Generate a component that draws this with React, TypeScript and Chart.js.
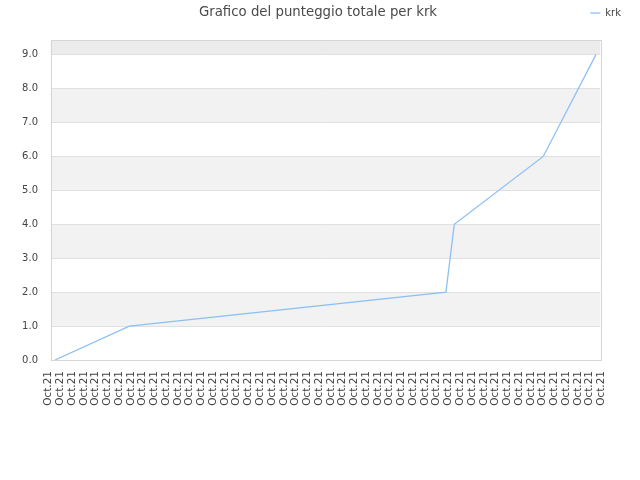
import React, { useEffect, useRef } from 'react';
import { Chart, registerables } from 'chart.js';

Chart.register(...registerables);

// x axis: one label per round, all in the same month
const dateLabels: string[] = Array(48).fill('Oct.21');
// y axis tick values
const yTicks: number[] = [0, 1, 2, 3, 4, 5, 6, 7, 8, 9];
// series "krk" (x in label units, y = total score)
const seriesName = 'krk';
const scoreX: number[] = [0.55, 6.87, 33.78, 34.49, 42.05, 46.53];
const scoreY: number[] = [0, 1, 2, 4, 6, 9];

const TITLE = 'Grafico del punteggio totale per krk';
const FONT = '"DejaVu Sans", sans-serif';

// alternating grey bands behind the plot + light frame + title
const decorPlugin = {
  id: 'decor',
  beforeDraw(chart: any) {
    const { ctx, chartArea: a, scales } = chart;
    const y = scales.y;
    ctx.save();
    const bands = [[1, 2], [3, 4], [5, 6], [7, 8]];
    ctx.fillStyle = '#f2f2f2';
    bands.forEach(([lo, hi]) => {
      const t = y.getPixelForValue(hi);
      const b = y.getPixelForValue(lo);
      ctx.fillRect(a.left, t, a.right - a.left, b - t);
    });
    ctx.fillStyle = '#ececec';
    const t9 = y.getPixelForValue(9);
    ctx.fillRect(a.left, a.top, a.right - a.left, t9 - a.top);
    ctx.restore();
  },
  beforeDatasetsDraw(chart: any) {
    const { ctx, chartArea: a } = chart;
    ctx.save();
    ctx.strokeStyle = '#d6d6d6';
    ctx.lineWidth = 1;
    ctx.strokeRect(Math.round(a.left) + 0.5, Math.round(a.top) + 0.5, Math.round(a.right - a.left), Math.round(a.bottom - a.top));
    ctx.restore();
  },
  afterDraw(chart: any) {
    const { ctx } = chart;
    ctx.save();
    ctx.font = '13.3px ' + FONT;
    ctx.fillStyle = '#4a4a4a';
    ctx.textAlign = 'center';
    ctx.textBaseline = 'middle';
    ctx.fillText(TITLE, 318, 12.5);
    ctx.restore();
  },
};

const ScoreChart: React.FC = () => {
  const chartRef = useRef<HTMLCanvasElement>(null);
  const chartInstance = useRef<Chart | null>(null);

  useEffect(() => {
    if (!chartRef.current) return;
    if (chartInstance.current) chartInstance.current.destroy();

    chartInstance.current = new Chart(chartRef.current, {
      type: 'line',
      data: {
        datasets: [
          {
            label: seriesName,
            data: scoreX.map((x, i) => ({ x, y: scoreY[i] })),
            borderColor: 'rgb(140, 192, 244)',
            backgroundColor: 'rgb(140, 192, 244)',
            borderWidth: 1.3,
            pointRadius: 0,
            tension: 0,
            fill: false,
            xAxisID: 'x',
            yAxisID: 'y',
          },
        ],
      },
      plugins: [decorPlugin],
      options: {
        animation: false,
        responsive: true,
        maintainAspectRatio: false,
        layout: { padding: { left: 0, right: 11, top: 0, bottom: 0 } },
        plugins: {
          title: { display: false },
          tooltip: { enabled: false },
          legend: {
            display: true,
            position: 'top',
            align: 'end',
            labels: {
              usePointStyle: true,
              pointStyle: 'line',
              pointStyleWidth: 10,
              padding: 8,
              color: '#444',
              font: { family: FONT, size: 10 },
            },
          },
        },
        scales: {
          x: {
            type: 'linear',
            position: 'bottom',
            min: 0.187,
            max: 46.9,
            afterBuildTicks: (s: any) => {
              s.ticks = dateLabels.map((_, i) => ({ value: i }));
            },
            afterFit: (s: any) => {
              s.height = 120;
            },
            grid: { display: false, drawTicks: false },
            border: { display: false },
            ticks: {
              autoSkip: false,
              minRotation: 90,
              maxRotation: 90,
              padding: 11,
              color: '#444',
              font: { family: FONT, size: 10.5 },
              callback: (v: any) => dateLabels[Math.round(Number(v))],
            },
          },
          xTop: {
            type: 'linear',
            position: 'top',
            display: true,
            grid: { display: false, drawTicks: false },
            border: { display: false },
            ticks: { display: false },
            afterFit: (s: any) => {
              s.height = 12.4;
            },
          },
          y: {
            type: 'linear',
            position: 'left',
            min: 0,
            max: 9.42,
            afterBuildTicks: (s: any) => {
              s.ticks = yTicks.map((v) => ({ value: v }));
            },
            afterFit: (s: any) => {
              s.width = 50.7;
            },
            grid: { color: '#e0e0e0', drawTicks: false },
            border: { display: false },
            ticks: {
              padding: 12.7,
              color: '#444',
              font: { family: FONT, size: 10 },
              callback: (v: any) => Number(v).toFixed(1),
            },
          },
          yRight: {
            type: 'linear',
            position: 'right',
            display: true,
            grid: { display: false, drawTicks: false },
            border: { display: false },
            ticks: { display: false },
            afterFit: (s: any) => {
              s.width = 28.7;
            },
          },
        },
      } as any,
    });

    return () => {
      if (chartInstance.current) {
        chartInstance.current.destroy();
        chartInstance.current = null;
      }
    };
  }, []);

  return (
    <div style={{ position: 'absolute', left: 0, top: 0, width: 640, height: 480, background: '#fff' }}>
      <canvas ref={chartRef}></canvas>
    </div>
  );
};

export default function App() {
  return <ScoreChart />;
}
